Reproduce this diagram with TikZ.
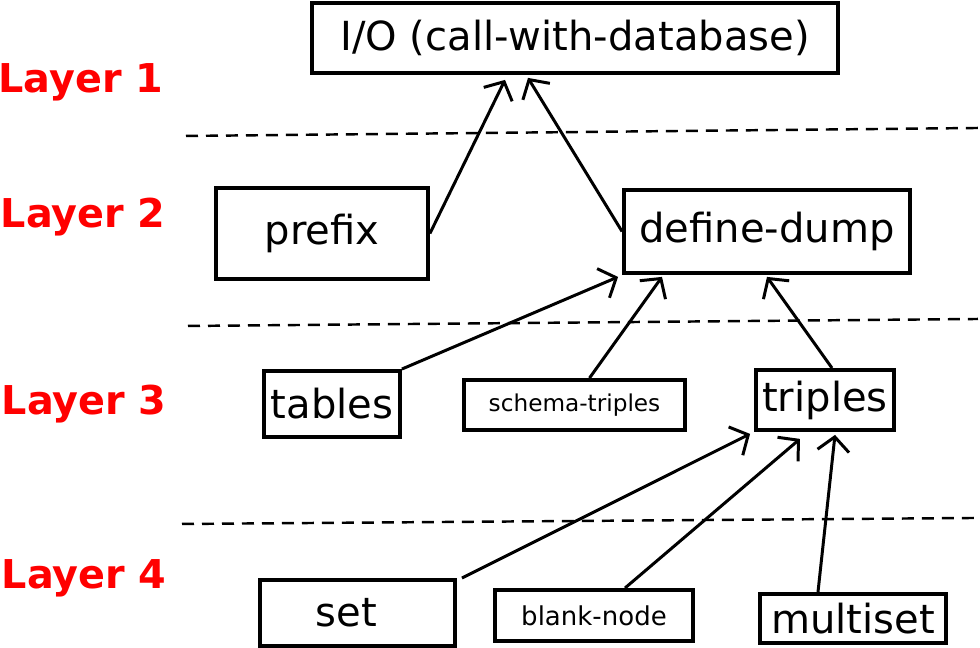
\documentclass[tikz,border=0pt]{standalone}
\usepackage{fontspec}
\setmainfont{DejaVu Sans}
\usetikzlibrary{arrows.meta}

\begin{document}
\begin{tikzpicture}[
	box/.style={draw, line width=1.1pt, inner sep=0pt, font=\fontsize{11.4pt}{13pt}\selectfont},
	smallbox/.style={box, font=\fontsize{6.6pt}{8pt}\selectfont},
	layer/.style={anchor=base west, inner sep=0pt, text=red, font=\fontsize{11.3pt}{13pt}\selectfont\bfseries},
	arr/.style={line width=0.85pt, -{Straight Barb[length=4pt,width=9pt,line width=0.85pt]}},
	sep/.style={dashed, dash pattern=on 0.12cm off 0.08cm, line width=0.7pt}
	]
			\useasboundingbox (0,0) rectangle (9.8,6.48);
			\node[layer] (l1) at (-0.02,5.55) {Layer 1};
			\node[layer] (l2) at (0.0,4.20) {Layer 2};
			\node[layer] (l3) at (0.01,2.33) {Layer 3};
			\node[layer] (l4) at (0.01,0.59) {Layer 4};
			\draw[sep] (1.86,5.12) -- (9.78,5.20);
			\draw[sep] (1.88,3.22) -- (9.78,3.29);
			\draw[sep] (1.82,1.24) -- (9.75,1.30);
			\node[box, minimum width=5.26cm, minimum height=0.70cm] (io) at (5.75,6.10) {I/O (call-with-database)};
			\node[box, minimum width=2.12cm, minimum height=0.91cm] (prefix) at (3.22,4.145) {prefix};
			\node[box, minimum width=2.86cm, minimum height=0.83cm] (dump) at (7.67,4.165) {define-dump};
			\node[box, minimum width=1.36cm, minimum height=0.66cm] (tables) at (3.32,2.44) {tables};
			\node[smallbox, minimum width=2.21cm, minimum height=0.50cm] (schema) at (5.745,2.43) {schema-triples};
			\node[box, minimum width=1.38cm, minimum height=0.60cm] (triples) at (8.25,2.48) {triples};
			\node[box, minimum width=1.95cm, minimum height=0.66cm] (set) at (3.575,0.35) {set\hspace*{0.22cm}};
			\node[smallbox, font=\fontsize{7.4pt}{9pt}\selectfont, minimum width=1.98cm, minimum height=0.51cm] (blank) at (5.94,0.325) {blank-node};
			\node[box, minimum width=1.86cm, minimum height=0.49cm] (multiset) at (8.53,0.295) {multiset};
			\draw[arr] (prefix.east) -- ([xshift=-0.70cm,yshift=-0.05cm]io.south);
			\draw[arr] (dump.west) -- ([xshift=-0.47cm,yshift=-0.03cm]io.south);
			\draw[arr] (tables.north east) -- ([xshift=-0.04cm,yshift=-0.02cm]dump.south west);
			\draw[arr] ([xshift=0.15cm]schema.north) -- ([xshift=-1.05cm,yshift=-0.02cm]dump.south);
			\draw[arr] ([xshift=0.07cm]triples.north) -- ([yshift=-0.02cm]dump.south);
			\draw[arr] ([xshift=0.05cm]set.north east) -- ([xshift=-0.04cm,yshift=-0.02cm]triples.south west);
			\draw[arr] ([xshift=0.31cm]blank.north) -- ([xshift=-0.25cm,yshift=-0.07cm]triples.south);
			\draw[arr] ([xshift=-0.35cm]multiset.north) -- ([xshift=0.10cm,yshift=-0.03cm]triples.south);
		\end{tikzpicture}
\end{document}
